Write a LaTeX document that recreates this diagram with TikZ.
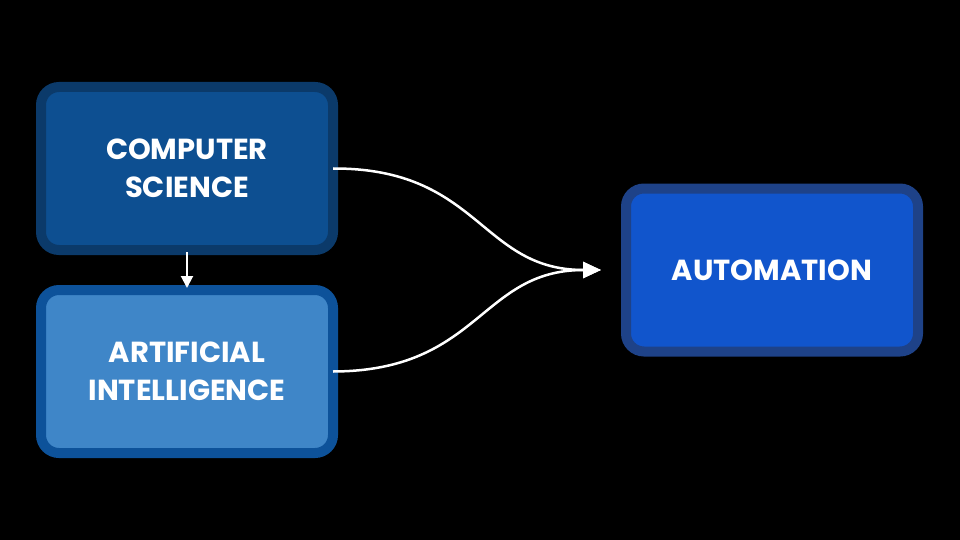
\documentclass[tikz,border=0pt]{standalone}
\usepackage{fontspec}
\setmainfont{Poppins}
\usetikzlibrary{positioning, arrows.meta}
\definecolor{csfill}{HTML}{0D4F91}
\definecolor{csline}{HTML}{0B3A6A}
\definecolor{aifill}{HTML}{3F86C8}
\definecolor{ailine}{HTML}{0D529A}
\definecolor{aufill}{HTML}{1155CC}
\definecolor{auline}{HTML}{1E4288}
\tikzset{
x=1pt, y=-1pt,
box/.style={draw, line width=10pt, rounded corners=18pt, minimum width=292pt, minimum height=163pt,
  align=center, text=white, font=\fontsize{29}{38}\selectfont\bfseries}, % every box
link/.style={draw=white, line width=2.5pt, -{Triangle[length=18pt,width=16pt]}},
}
\begin{document}
\begin{tikzpicture}
\fill[black] (0,0) rectangle (960,540);
\node[box, draw=csline, fill=csfill] (cs) at (187,168.5) {COMPUTER\\SCIENCE};
\node[box, draw=ailine, fill=aifill] (ai) at (187,371.5) {ARTIFICIAL\\INTELLIGENCE};
\node[box, draw=auline, fill=aufill] (auto) at (772,270) {AUTOMATION};
\draw[link, line width=2pt, -{Triangle[length=12pt,width=12pt]}] (cs.south) ++(0,-3) -- ([yshift=-3pt]ai.north);
\draw[link] ([xshift=-5pt]cs.east) .. controls (480,168) and (480,270) .. ([xshift=-20pt]auto.west);
\draw[link] ([xshift=-5pt]ai.east) .. controls (480,371) and (480,270) .. ([xshift=-20pt]auto.west);
\end{tikzpicture}
\end{document}
